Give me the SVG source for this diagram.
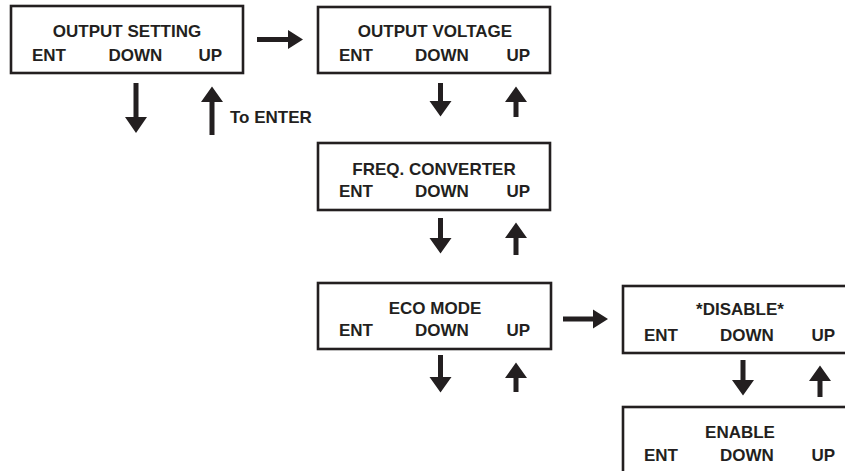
<svg xmlns="http://www.w3.org/2000/svg" width="845" height="471" viewBox="0 0 845 471">
<style>
.box{fill:#fff;stroke:#231f20;stroke-width:2.6}
text{font-family:"Liberation Sans",Arial,sans-serif;font-weight:bold;font-size:17px;fill:#231f20}
.m{text-anchor:middle}
.e{text-anchor:end}
.arr{fill:#231f20}
</style>
<rect width="845" height="471" fill="#fff"/>
<g id="output-setting">
<rect class="box" x="11" y="6" width="232" height="67"/>
<text class="m" x="127" y="37">OUTPUT SETTING</text>
<text x="32" y="61">ENT</text><text class="m" x="135.5" y="61">DOWN</text><text class="e" x="222" y="61">UP</text>
</g>
<g id="output-voltage">
<rect class="box" x="318" y="7" width="232" height="66"/>
<text class="m" x="435" y="37">OUTPUT VOLTAGE</text>
<text x="339" y="61">ENT</text><text class="m" x="442" y="61">DOWN</text><text class="e" x="530" y="61">UP</text>
</g>
<g id="freq-converter">
<rect class="box" x="318" y="143" width="232" height="67"/>
<text class="m" x="434" y="175">FREQ. CONVERTER</text>
<text x="339" y="197">ENT</text><text class="m" x="442" y="197">DOWN</text><text class="e" x="530" y="197">UP</text>
</g>
<g id="eco-mode">
<rect class="box" x="318" y="283" width="233" height="66"/>
<text class="m" x="435" y="314">ECO MODE</text>
<text x="339" y="336">ENT</text><text class="m" x="442" y="336">DOWN</text><text class="e" x="530" y="336">UP</text>
</g>
<g id="disable">
<rect class="box" x="623" y="286" width="232" height="67"/>
<text class="m" x="740" y="315">*DISABLE*</text>
<text x="644" y="341">ENT</text><text class="m" x="747" y="341">DOWN</text><text class="e" x="835" y="341">UP</text>
</g>
<g id="enable">
<rect class="box" x="623" y="407" width="232" height="80"/>
<text class="m" x="740" y="438">ENABLE</text>
<text x="644" y="461">ENT</text><text class="m" x="747" y="461">DOWN</text><text class="e" x="835" y="461">UP</text>
</g>
<g id="connectors" class="arr">
<!-- right arrows -->
<path d="M257 37h31v-7l15 9.5-15 9.5v-7h-31z"/>
<path d="M563 316.5h30v-7l15 9.5-15 9.5v-7h-30z"/>
<!-- down arrows -->
<path d="M133.5 83h5v34h8.5l-11 16-11-16h8.5z"/>
<path d="M438 83h5v18h8.5l-11 15.5-11-15.5h8.5z"/>
<path d="M438 218h5v20h8.5l-11 15.5-11-15.5h8.5z"/>
<path d="M438 355h5v22h8.5l-11 15.5-11-15.5h8.5z"/>
<path d="M740.5 360h5v20h8.5l-11 15.5-11-15.5h8.5z"/>
<!-- up arrows -->
<path d="M209.5 135h5v-33h8.5l-11-15.5-11 15.5h8.5z"/>
<path d="M513.5 117h5v-15h8.5l-11-15.5-11 15.5h8.5z"/>
<path d="M513.5 255h5v-17h8.5l-11-15.5-11 15.5h8.5z"/>
<path d="M513.5 392h5v-14h8.5l-11-15.5-11 15.5h8.5z"/>
<path d="M817.5 397h5v-16h8.5l-11-15.5-11 15.5h8.5z"/>
</g>
<text x="230" y="123">To ENTER</text>
</svg>
